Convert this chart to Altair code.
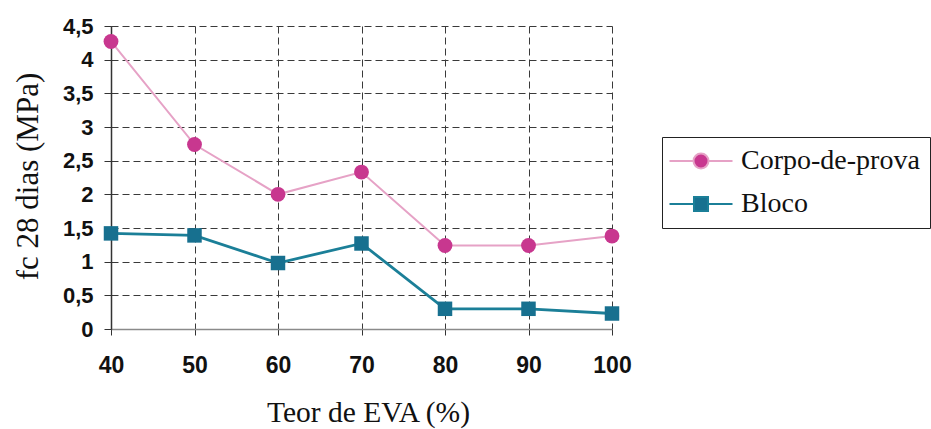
import altair as alt
import pandas as pd

# EVA content (%) and 28-day compressive strength (MPa)
teor_eva = [40, 50, 60, 70, 80, 90, 100]
corpo_de_prova = [4.27, 2.74, 2.00, 2.33, 1.24, 1.24, 1.38]
bloco = [1.42, 1.39, 0.98, 1.27, 0.30, 0.30, 0.23]

series_names = ["Corpo-de-prova", "Bloco"]
line_colors = ["#e6a2c6", "#1b7f98"]
marker_colors = ["#c8378f", "#17708f"]

x_ticks = [40, 50, 60, 70, 80, 90, 100]
y_ticks = [0, 0.5, 1, 1.5, 2, 2.5, 3, 3.5, 4, 4.5]

# legend glyphs: a short line with the series marker in the middle
legend_paths = [
    "M-3,0H-0.714M0.714,0H3M0.714,0A0.714,0.714,0,1,1,-0.714,0A0.714,0.714,0,1,1,0.714,0Z",
    "M-3,0H-0.667M0.667,0H3M-0.667,-0.667H0.667V0.667H-0.667Z",
]

df = pd.DataFrame(
    {
        "teor": teor_eva * 2,
        "fc": corpo_de_prova + bloco,
        "serie": [series_names[0]] * len(teor_eva) + [series_names[1]] * len(teor_eva),
    }
)

x_enc = alt.X(
    "teor:Q",
    scale=alt.Scale(domain=[40, 100], nice=False, zero=False),
    axis=alt.Axis(
        values=x_ticks,
        title="Teor de EVA (%)",
        titleFont="Liberation Serif",
        titleFontSize=29.5,
        titleFontWeight="normal",
        titleColor="#111",
        titleX=257,
        titleY=92,
        titleAlign="center",
        titleBaseline="alphabetic",
        labelFont="Liberation Sans",
        labelFontWeight="bold",
        labelFontSize=23,
        labelColor="#111",
        labelPadding=19,
        labelFlush=False,
        labelOverlap=False,
        tickSize=6,
        tickColor="#333",
        domainColor="#8a8a8a",
        domainWidth=1.5,
        grid=True,
        gridColor="#3a3a3a",
        gridDash=[7, 4],
        gridWidth=1,
    ),
)

y_enc = alt.Y(
    "fc:Q",
    scale=alt.Scale(domain=[0, 4.5], nice=False),
    axis=alt.Axis(
        values=y_ticks,
        labelExpr="replace(format(datum.value, '~g'), '.', ',')",
        title="fc 28 dias (MPa)",
        titleFont="Liberation Serif",
        titleFontSize=31,
        titleFontWeight="normal",
        titleColor="#111",
        titleX=-67,
        titleY=150,
        labelFont="Liberation Sans",
        labelFontWeight="bold",
        labelFontSize=22,
        labelColor="#111",
        labelPadding=11,
        labelFlush=False,
        labelOverlap=False,
        tickSize=7,
        tickColor="#333",
        domainColor="#333",
        domainWidth=1.5,
        grid=True,
        gridColor="#3a3a3a",
        gridDash=[7, 4],
        gridWidth=1,
    ),
)

base = alt.Chart(df)

layers = []
shapes = ["circle", "square"]
sizes = [220, 210]
widths = [2, 2.8]
for i, name in enumerate(series_names):
    sel = base.transform_filter(alt.datum.serie == name)
    layers.append(
        sel.mark_line(color=line_colors[i], strokeWidth=widths[i]).encode(x=x_enc, y=y_enc)
    )
    layers.append(
        sel.mark_point(
            filled=True, shape=shapes[i], size=sizes[i], color=marker_colors[i], opacity=1
        ).encode(x=x_enc, y=y_enc)
    )

legend = alt.Legend(
    orient="none",
    legendX=551,
    legendY=111,
    title=None,
    labelFont="Liberation Serif",
    labelFontSize=28,
    labelColor="#111",
    labelLimit=400,
    labelOffset=26,
    symbolOffset=15,
    symbolSize=441,
    symbolStrokeWidth=2,
    rowPadding=15,
    padding=10,
    strokeColor="#222",
    fillColor="white",
)

legend_layer = base.transform_filter("false").mark_point(
    filled=True, size=441, strokeWidth=2, opacity=1
).encode(
    x=x_enc,
    y=y_enc,
    fill=alt.Fill("serie:N", scale=alt.Scale(domain=series_names, range=marker_colors), legend=legend),
    stroke=alt.Stroke("serie:N", scale=alt.Scale(domain=series_names, range=line_colors), legend=legend),
    shape=alt.Shape("serie:N", scale=alt.Scale(domain=series_names, range=legend_paths), legend=legend),
)

chart = (
    alt.layer(*layers, legend_layer)
    .properties(
        width=501,
        height=303,
        autosize=alt.AutoSizeParams(type="none"),
        padding={"left": 111, "top": 26, "right": 319, "bottom": 100},
        background="white",
    )
    .configure_view(stroke=None)
)

chart.save("out.html", embed_options={"renderer": "svg", "actions": False})
